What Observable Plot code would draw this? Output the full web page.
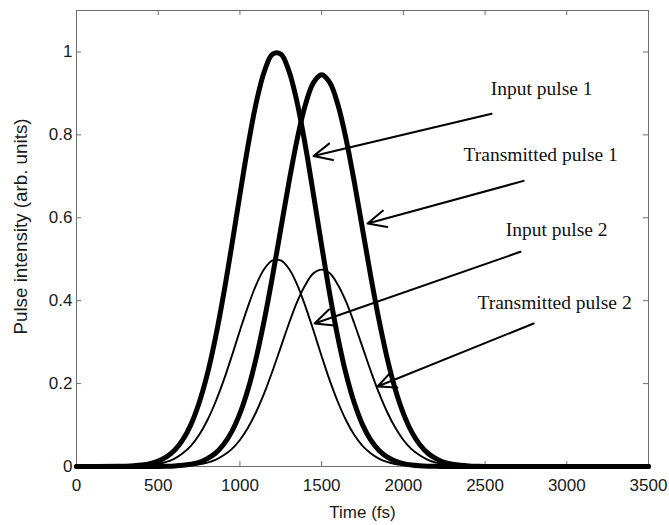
<!DOCTYPE html>
<html>
<head>
<meta charset="utf-8">
<script src="https://cdn.jsdelivr.net/npm/d3@7"></script>
<script src="https://cdn.jsdelivr.net/npm/@observablehq/plot@0.6"></script>
<style>
  html, body { margin: 0; padding: 0; background: #ffffff; }
  #chart { width: 669px; height: 525px; }
</style>
</head>
<body>
<div id="chart"></div>
<script>
// Time axis samples (fs)
const timeFs = [0, 250, 300, 350, 400, 450, 500, 550, 600, 650, 700, 750, 800, 850, 900, 950,
  1000, 1050, 1100, 1150, 1200, 1250, 1300, 1350, 1400, 1450, 1500, 1550, 1600, 1650, 1700, 1750,
  1800, 1850, 1900, 1950, 2000, 2050, 2100, 2150, 2200, 2250, 2300, 2350, 2400, 2450, 2500, 3500];

const inputPulse1 = [0, 0.0004, 0.0008, 0.0017, 0.0035, 0.007, 0.013, 0.023, 0.039, 0.064, 0.101, 0.153,
  0.222, 0.310, 0.415, 0.533, 0.656, 0.775, 0.878, 0.954, 0.995, 0.995, 0.954, 0.878, 0.775, 0.656,
  0.533, 0.415, 0.310, 0.222, 0.153, 0.101, 0.064, 0.039, 0.023, 0.013, 0.007, 0.0035, 0.0017, 0.0008,
  0.0004, 0.0002, 0, 0, 0, 0, 0, 0];

const transmittedPulse1 = [0, 0, 0, 0, 0, 0.0001, 0.0003, 0.0007, 0.0014, 0.0029, 0.0057, 0.010,
  0.019, 0.032, 0.053, 0.084, 0.128, 0.187, 0.263, 0.355, 0.460, 0.573, 0.686, 0.789, 0.872, 0.926,
  0.945, 0.926, 0.872, 0.789, 0.686, 0.573, 0.460, 0.355, 0.263, 0.187, 0.128, 0.084, 0.053, 0.032,
  0.019, 0.010, 0.0057, 0.0029, 0.0014, 0.0007, 0.0003, 0];

const inputPulse2 = [0, 0.0002, 0.0004, 0.0009, 0.0017, 0.0035, 0.006, 0.011, 0.019, 0.032, 0.050, 0.076,
  0.111, 0.155, 0.207, 0.266, 0.328, 0.387, 0.439, 0.477, 0.497, 0.497, 0.477, 0.439, 0.387, 0.328,
  0.266, 0.207, 0.155, 0.111, 0.076, 0.050, 0.032, 0.019, 0.011, 0.006, 0.0035, 0.0017, 0.0009, 0.0004,
  0.0002, 0.0001, 0, 0, 0, 0, 0, 0];

const transmittedPulse2 = [0, 0, 0, 0, 0, 0, 0.0001, 0.0003, 0.0007, 0.0015, 0.0029, 0.0053,
  0.0094, 0.016, 0.027, 0.042, 0.064, 0.094, 0.132, 0.178, 0.231, 0.288, 0.345, 0.397, 0.438, 0.466,
  0.475, 0.466, 0.438, 0.397, 0.345, 0.288, 0.231, 0.178, 0.132, 0.094, 0.064, 0.042, 0.027, 0.016,
  0.0094, 0.0053, 0.0029, 0.0015, 0.0007, 0.0003, 0.0001, 0];

// Tick values
const xTicks = [0, 500, 1000, 1500, 2000, 2500, 3000, 3500];
const yTicks = [0, 0.2, 0.4, 0.6, 0.8, 1];

// Annotation labels and arrows (data coordinates)
const labelText = ["Input pulse 1", "Transmitted pulse 1", "Input pulse 2", "Transmitted pulse 2"];
const labelX = [2846, 2840, 2938, 2925];
const labelY = [0.911, 0.752, 0.572, 0.396];
const arrowTailX = [2540, 2736, 2717, 2797];
const arrowTailY = [0.851, 0.689, 0.518, 0.345];
const arrowHeadX = [1450, 1781, 1457, 1842];
const arrowHeadY = [0.749, 0.586, 0.345, 0.193];

const toSeries = (vals) => timeFs.map((t, i) => ({t, v: vals[i]}));
const labels = labelText.map((text, i) => ({text, x: labelX[i], y: labelY[i]}));
const arrows = arrowTailX.map((x1, i) => ({x1, y1: arrowTailY[i], x2: arrowHeadX[i], y2: arrowHeadY[i]}));

const W = 669, H = 525;
const plot = Plot.plot({
  width: W,
  height: H,
  marginLeft: 76,
  marginRight: 21,
  marginTop: 10,
  marginBottom: 59,
  style: {background: "#ffffff", fontFamily: "'Liberation Sans', Arial, sans-serif"},
  x: {domain: [0, 3500]},
  y: {domain: [0, 1.1]},
  marks: [
    Plot.frame({stroke: "#6e6e6e", strokeWidth: 1}),
    // inward ticks on all four sides
    Plot.ruleX(xTicks, {x: d => d, insetTop: 451, stroke: "#6e6e6e"}),
    Plot.ruleX(xTicks, {x: d => d, insetBottom: 451, stroke: "#6e6e6e"}),
    Plot.ruleY(yTicks, {y: d => d, insetRight: 567, stroke: "#6e6e6e"}),
    Plot.ruleY(yTicks, {y: d => d, insetLeft: 567, stroke: "#6e6e6e"}),
    Plot.axisX({ticks: xTicks, tickSize: 0, tickPadding: 12, fontSize: 17, label: null,
      tickFormat: d => String(d), color: "#1a1a1a"}),
    Plot.axisY({ticks: yTicks, tickSize: 0, tickPadding: 4, fontSize: 17, label: null,
      tickFormat: d => String(d), color: "#1a1a1a"}),
    // axis titles
    Plot.text(["Time (fs)"], {frameAnchor: "bottom", dy: 51, fontSize: 17, fill: "#1a1a1a", text: d => d}),
    Plot.text(["Pulse intensity (arb. units)"], {frameAnchor: "left", textAnchor: "middle", dx: -56, dy: -12,
      rotate: -90, fontSize: 18.8, fill: "#1a1a1a", text: d => d}),
    // pulses
    Plot.line(toSeries(inputPulse2), {x: "t", y: "v", stroke: "#000", strokeWidth: 1.9, curve: "catmull-rom"}),
    Plot.line(toSeries(transmittedPulse2), {x: "t", y: "v", stroke: "#000", strokeWidth: 1.9, curve: "catmull-rom"}),
    Plot.line(toSeries(inputPulse1), {x: "t", y: "v", stroke: "#000", strokeWidth: 5, curve: "catmull-rom",
      strokeLinejoin: "round", strokeLinecap: "round"}),
    Plot.line(toSeries(transmittedPulse1), {x: "t", y: "v", stroke: "#000", strokeWidth: 5, curve: "catmull-rom",
      strokeLinejoin: "round", strokeLinecap: "round"}),
    // annotations
    Plot.arrow(arrows, {x1: "x1", y1: "y1", x2: "x2", y2: "y2", stroke: "#000", strokeWidth: 2,
      headAngle: 50, headLength: 15}),
    Plot.text(labels, {x: "x", y: "y", text: "text", fontSize: 19.5, fill: "#111",
      fontFamily: "'Liberation Serif', 'Times New Roman', serif", textAnchor: "middle", lineAnchor: "middle"})
  ]
});
document.getElementById("chart").appendChild(plot);
</script>
</body>
</html>
